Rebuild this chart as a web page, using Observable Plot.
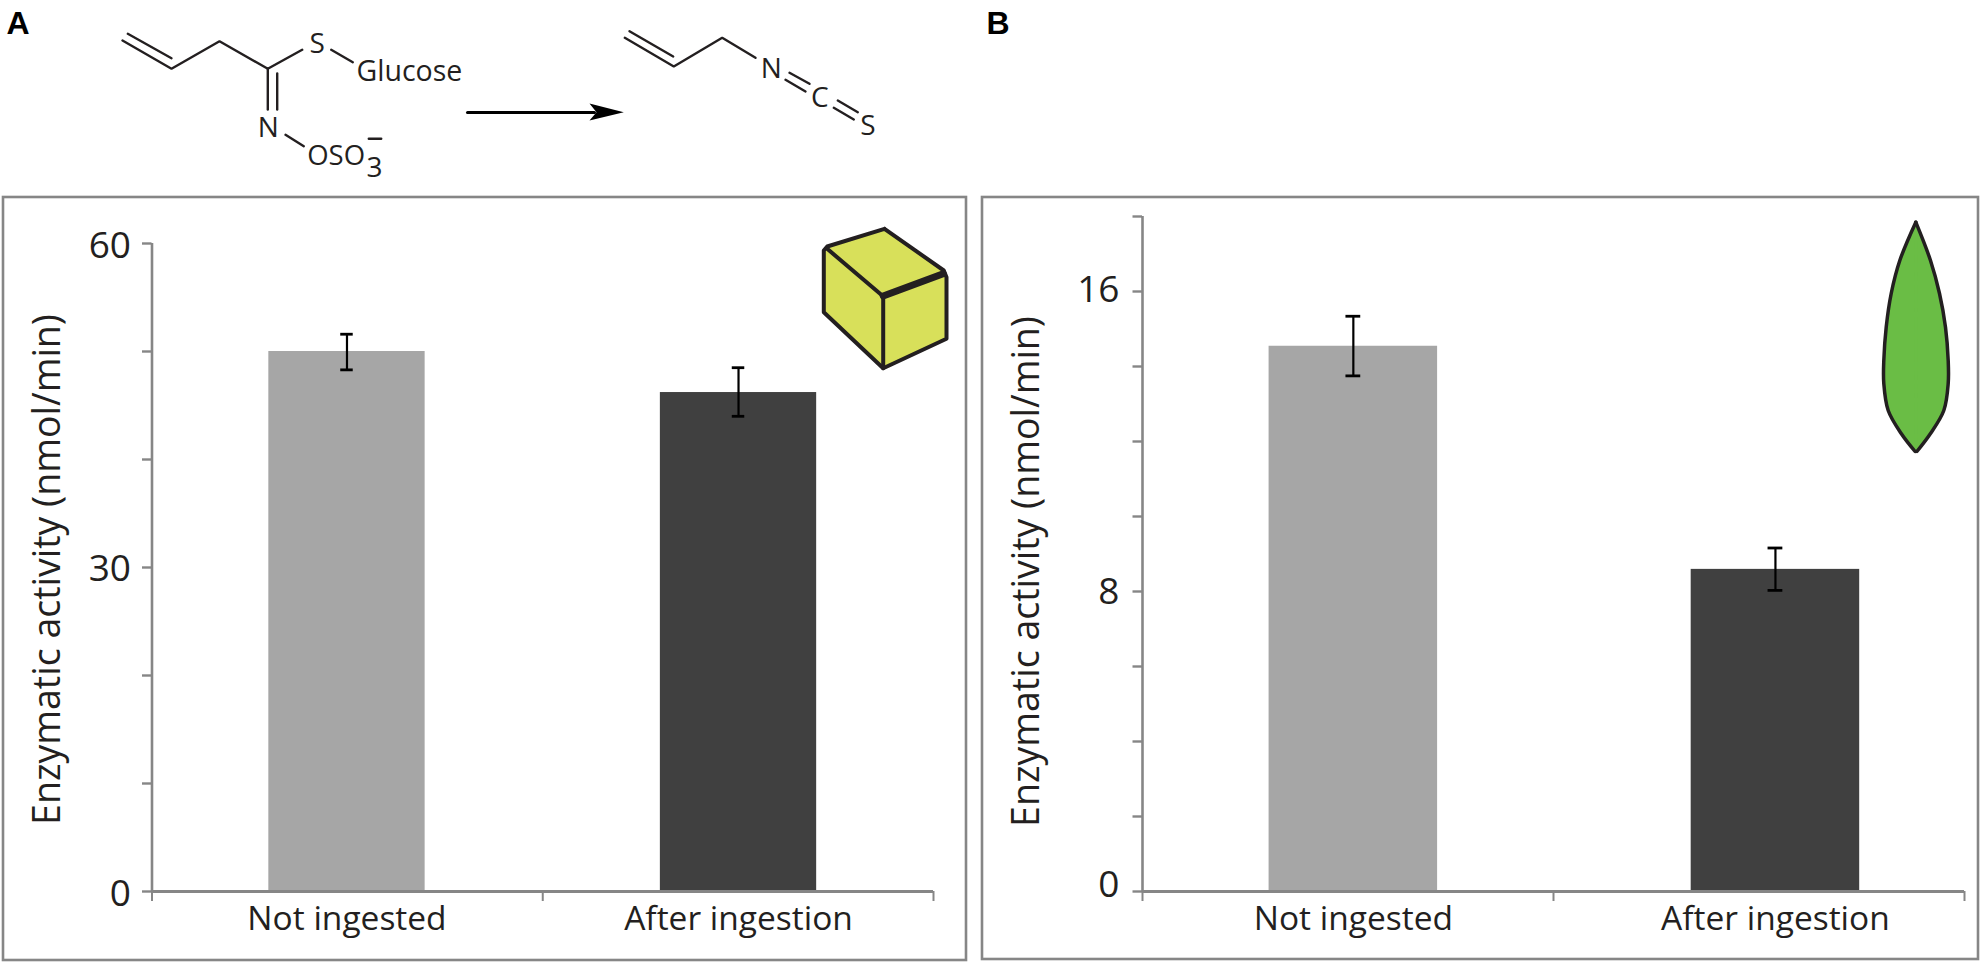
<!DOCTYPE html>
<html>
<head>
<meta charset="utf-8">
<script src="https://cdn.jsdelivr.net/npm/d3@7"></script>
<script src="https://cdn.jsdelivr.net/npm/@observablehq/plot@0.6"></script>
<style>
html,body{margin:0;padding:0;background:#fff;}
#page{position:relative;width:1981px;height:965px;overflow:hidden;}
#page svg{position:absolute;top:0;background:transparent;overflow:visible;}
</style>
</head>
<body>
<div id="page"></div>
<script>
// ---- chart data
const categories = ["Not ingested", "After ingestion"];
const barColors = ["#a6a6a6", "#404040"];

const valuesA = [50.0, 46.2];
const errLowA = [48.3, 44.0];
const errHighA = [51.6, 48.5];
const slotsA = [0.499, 1.501];
const ticksA = [0, 10, 20, 30, 40, 50, 60];
const labelsA = [0, 30, 60];

const valuesB = [14.54, 8.59];
const errLowB = [13.75, 8.03];
const errHighB = [15.34, 9.16];
const slotsB = [0.513, 1.54];
const ticksB = [0, 2, 4, 6, 8, 10, 12, 14, 16, 18];
const labelsB = [0, 8, 16];

const yTitle = "Enzymatic activity (nmol/min)";
const axisGray = "#868686";
const ink = "#231f20";
const sans = "'Open Sans', sans-serif";

// ---- drawing-space outlines for the molecule and icons (page pixels)
const bonds = [
  [[122,40],[171,68.3],[219,40.7],[267.3,68.3],[301.7,49.3]],
  [[127.3,33.3],[171,57.7]],
  [[330.7,49.3],[352.3,61.7]],
  [[267.3,68],[267.3,109]],
  [[276.7,73],[276.7,109]],
  [[285,134.3],[303.3,145.7]],
  [[368.3,138.3],[380.7,138.3]],
  [[624.3,37.3],[673.3,66],[721.7,37.3],[755,57.3]],
  [[629,30.7],[672.7,56]],
  [[785,79.3],[805,91]],
  [[789,72.3],[809,83.3]],
  [[833.3,107.3],[853.3,119]],
  [[837.3,100],[857.3,111.7]]
];
const centredAtoms = [
  {t:"S", x:316.7, y:43.7},
  {t:"N", x:267.7, y:127.7},
  {t:"3", x:374, y:167.7},
  {t:"N", x:770.7, y:68.7},
  {t:"C", x:819.3, y:97.7},
  {t:"S", x:867.3, y:125.3}
];
const leadingAtoms = [
  {t:"Glucose", x:356, y:71.4, s:28.5},
  {t:"OSO", x:306.7, y:156, s:27.5}
];
const arrowHead = [[589,103],[623.3,111.7],[589,120],[596,111.7],[589,103]];
const arrowShaft = [[467,112],[594,112]];
const cubeOutline = [[884,228.3],[943.3,270],[946,276.7],[946,338.3],[882.7,367.7],[823.3,311.7],[823.3,250],[826.7,246],[884,228.3]];
const cubeEdges = [
  [[826.7,248.3],[881.7,295]],
  [[882.7,296.7],[882.7,367.7]]
];
const cubeHeavy = [[882.7,295.5],[942.7,273.3]];
const leafLeft = [[1915.3,221.7],[1899.3,260],[1890.7,293],[1885.7,326.7],[1883.3,360],[1883.3,383],[1887.7,410],[1900.7,433],[1914.6,451]];
const leafRight = [[1915.3,221.7],[1930,260],[1939,293],[1945,326.7],[1947.7,360],[1947.7,383],[1943.3,410],[1930,433],[1916.4,451]];
const leafSeam = [[1915.3,225],[1915.5,449]];
const panelFrames = [
  {x1:3, x2:966, y1:197, y2:960},
  {x1:982, x2:1978, y1:197, y2:959}
];
const panelLetters = [{t:"A", x:6}, {t:"B", x:986}];

function panel({left, width, marginLeft, marginRight, marginTop, yMax, values, low, high, slots, ticks, labels, barHalf, capHalf, labelDy, labelX, titleX, titleY}) {
  const rows = categories.map((c, i) => ({c, v: values[i], lo: low[i], hi: high[i], s: slots[i], color: barColors[i]}));
  const marks = [
    Plot.rect(rows, {x1: d => d.s - barHalf, x2: d => d.s + barHalf, y1: 0, y2: "v", fill: "color"}),
    Plot.ruleX(rows, {x: "s", y1: "lo", y2: "hi", stroke: "#000", strokeWidth: 2.2}),
    Plot.ruleY(rows, {y: "lo", x1: d => d.s - capHalf, x2: d => d.s + capHalf, stroke: "#000", strokeWidth: 2.8}),
    Plot.ruleY(rows, {y: "hi", x1: d => d.s - capHalf, x2: d => d.s + capHalf, stroke: "#000", strokeWidth: 2.8}),
    Plot.ruleX([0], {stroke: axisGray, strokeWidth: 2.6}),
    Plot.ruleY([0], {stroke: axisGray, strokeWidth: 2.8}),
    Plot.axisY({ticks, tickSize: 9.5, tickFormat: () => "", label: null, stroke: axisGray, strokeWidth: 2.4}),
    Plot.axisX({ticks: [0, 1, 2], tickSize: 10, tickFormat: () => "", label: null, stroke: axisGray, strokeWidth: 2}),
    ...labels.map((v, i) => Plot.text([v], {
      y: d => d, text: d => String(d), frameAnchor: "left", dx: labelX, dy: labelDy[i],
      textAnchor: "end", fontSize: 37, fill: ink
    })),
    Plot.text(rows, {x: "s", y: 0, text: "c", dy: 28, fontSize: 33.5, fill: ink}),
    Plot.text([yTitle], {
      frameAnchor: "top-left", dx: titleX, dy: titleY, rotate: -90, text: d => d,
      textAnchor: "middle", fontSize: 37.5, fill: ink
    })
  ];
  const svg = Plot.plot({
    width, height: 965,
    marginLeft, marginRight, marginTop, marginBottom: 74,
    style: {fontFamily: sans, background: "transparent"},
    x: {domain: [0, 2], axis: null},
    y: {domain: [0, yMax], axis: null},
    marks
  });
  svg.style.left = left + "px";
  return svg;
}

const page = document.getElementById("page");

page.append(panel({
  left: 0, width: 975, marginLeft: 151.5, marginRight: 42, marginTop: 243,
  yMax: 60, values: valuesA, low: errLowA, high: errHighA, slots: slotsA,
  ticks: ticksA, labels: labelsA, barHalf: 0.2, capHalf: 0.016,
  labelDy: [2.5, 2, 3], labelX: -21, titleX: -119, titleY: 326
}));

page.append(panel({
  left: 975, width: 1006, marginLeft: 167, marginRight: 17, marginTop: 216,
  yMax: 18, values: valuesB, low: errLowB, high: errHighB, slots: slotsB,
  ticks: ticksB, labels: labelsB, barHalf: 0.205, capHalf: 0.018,
  labelDy: [-6.5, 0.5, -1.5], labelX: -23, titleX: -130, titleY: 355
}));

// overlay: frames, panel letters, reaction scheme and icons
const xy = {x: d => d[0], y: d => d[1]};
const overlay = Plot.plot({
  width: 1981, height: 965, margin: 0,
  style: {fontFamily: sans, background: "transparent"},
  x: {domain: [0, 1981], range: [0, 1981], axis: null},
  y: {domain: [0, 965], range: [0, 965], axis: null},
  marks: [
    Plot.rect(panelFrames, {x1: "x1", x2: "x2", y1: "y1", y2: "y2", fill: "none", stroke: axisGray, strokeWidth: 2.6}),
    Plot.text(panelLetters, {x: "x", y: 33, text: "t", textAnchor: "start", lineAnchor: "bottom", fontSize: 32, fontWeight: "bold", fontFamily: "'Liberation Sans', Arial, sans-serif", fill: "#000"}),
    ...bonds.map(b => Plot.line(b, {...xy, stroke: ink, strokeWidth: 2.4, strokeLinejoin: "miter"})),
    Plot.text(centredAtoms, {x: "x", y: "y", text: "t", fontSize: 28, fill: ink}),
    Plot.text(leadingAtoms, {x: "x", y: "y", text: "t", fontSize: "s", textAnchor: "start", fill: ink}),
    Plot.line(arrowShaft, {...xy, stroke: "#000", strokeWidth: 3}),
    Plot.line(arrowHead, {...xy, fill: "#000", stroke: "none"}),
    Plot.line(cubeOutline, {...xy, fill: "#d8e05a", stroke: ink, strokeWidth: 4, strokeLinejoin: "round"}),
    ...cubeEdges.map(e => Plot.line(e, {...xy, stroke: ink, strokeWidth: 4})),
    Plot.line(cubeHeavy, {...xy, stroke: ink, strokeWidth: 7}),
    Plot.line(leafLeft, {...xy, fill: "#6abd45", stroke: "none", curve: "catmull-rom"}),
    Plot.line(leafRight, {...xy, fill: "#6abd45", stroke: "none", curve: "catmull-rom"}),
    Plot.line(leafSeam, {...xy, stroke: "#6abd45", strokeWidth: 3}),
    Plot.line(leafLeft, {...xy, stroke: ink, strokeWidth: 3.5, curve: "catmull-rom"}),
    Plot.line(leafRight, {...xy, stroke: ink, strokeWidth: 3.5, curve: "catmull-rom"})
  ]
});
overlay.style.left = "0px";
page.append(overlay);
</script>
</body>
</html>
